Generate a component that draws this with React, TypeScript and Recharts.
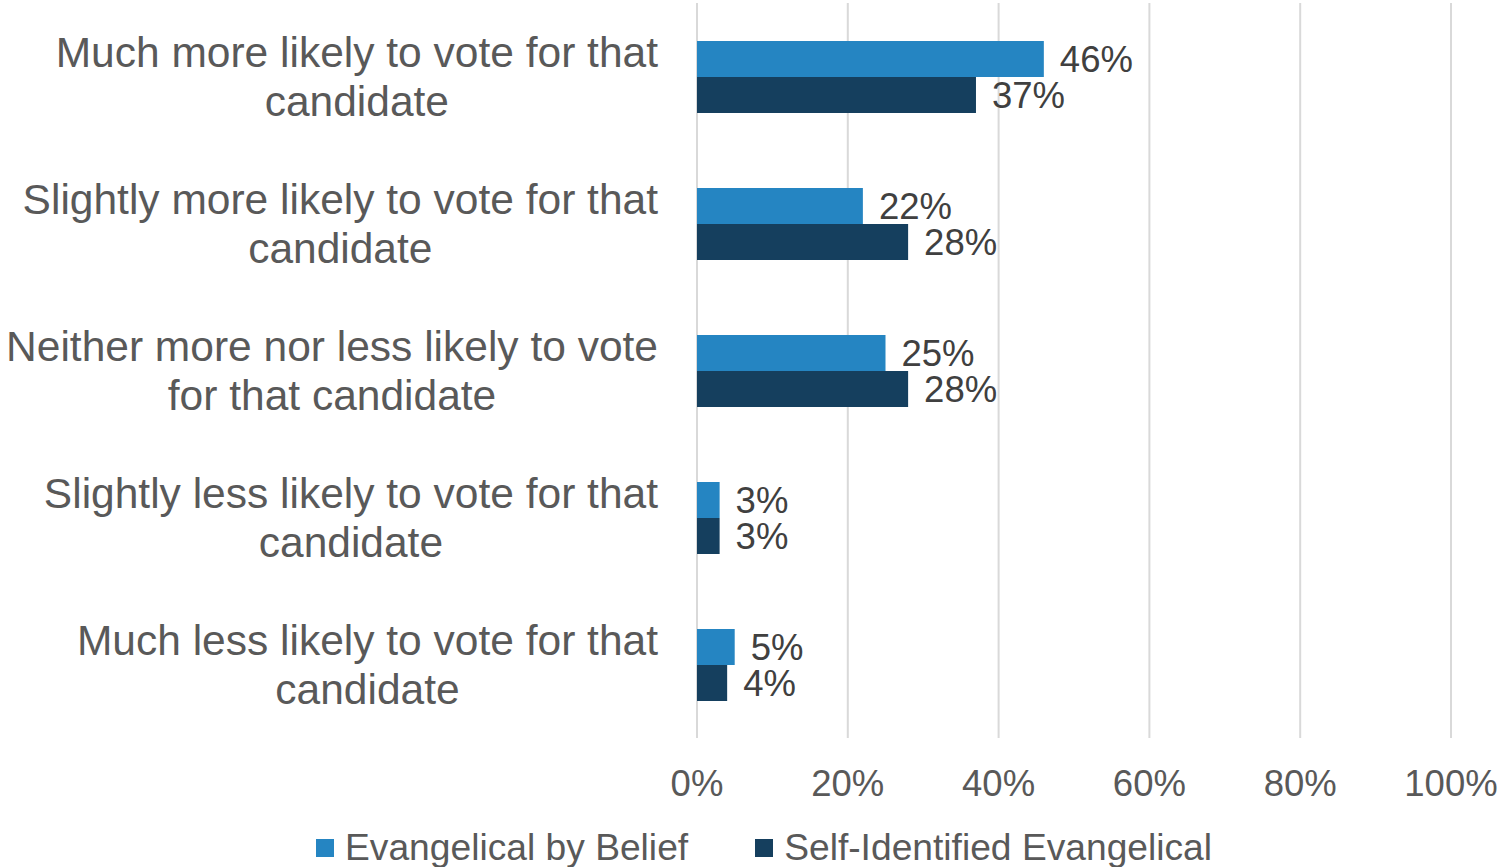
import { BarChart, Bar, XAxis, YAxis, CartesianGrid, LabelList } from 'recharts';

// 回答カテゴリ（2行表示）
const categoryLines: string[][] = [
  ['Much more likely to vote for that', 'candidate'],
  ['Slightly more likely to vote for that', 'candidate'],
  ['Neither more nor less likely to vote', 'for that candidate'],
  ['Slightly less likely to vote for that', 'candidate'],
  ['Much less likely to vote for that', 'candidate'],
];
const categories = categoryLines.map(l => l.join(' '));

const seriesNames = ['Evangelical by Belief', 'Self-Identified Evangelical'];
const beliefValues = [46, 22, 25, 3, 5];
const selfIdValues = [37, 28, 28, 3, 4];
const xTicks = [0, 20, 40, 60, 80, 100];

const colors = ['#2585C2', '#153F5E'];
const FONT = '"Liberation Sans", Arial, sans-serif';

const data = categories.map((name, i) => ({
  name,
  belief: beliefValues[i],
  selfId: selfIdValues[i],
}));

let ctx: CanvasRenderingContext2D | null = null;
const measure = (text: string, size: number) => {
  if (!ctx) ctx = document.createElement('canvas').getContext('2d');
  if (!ctx) return text.length * size * 0.5;
  ctx.font = `${size}px "Liberation Sans", Arial`;
  return ctx.measureText(text).width;
};

// 右揃えブロック内で中央揃えのラベル
const CategoryTick = (props: any) => {
  const { x, y, payload } = props;
  const idx = categories.indexOf(payload.value);
  const lines = categoryLines[idx] || [payload.value];
  const size = 42.5;
  const right = x - 31;
  const blockW = Math.max(...lines.map(l => measure(l, size)));
  const cx = right - blockW / 2;
  const lh = 49;
  const startY = y - ((lines.length - 1) * lh) / 2;
  return (
    <g>
      {lines.map((l, i) => (
        <text
          key={i}
          x={cx}
          y={startY + i * lh}
          dy="0.35em"
          textAnchor="middle"
          fill="#595959"
          fontSize={size}
          fontFamily={FONT}
        >
          {l}
        </text>
      ))}
    </g>
  );
};

const labelStyle = { fontSize: 36.5, fill: '#404040', fontFamily: FONT };

const App = () => {
  return (
    <div style={{ position: 'absolute', left: 0, top: 0, width: 1499, height: 867, background: '#fff', fontFamily: FONT }}>
      <BarChart
        width={1499}
        height={867}
        data={data}
        layout="vertical"
        margin={{ top: 3, right: 48, left: 0, bottom: 69 }}
        barCategoryGap={38}
        barGap={0}
      >
        <CartesianGrid horizontal={false} stroke="#D9D9D9" strokeWidth={2} />
        <XAxis
          type="number"
          domain={[0, 100]}
          ticks={xTicks}
          tickFormatter={(v) => `${v}%`}
          axisLine={false}
          tickLine={false}
          tickSize={0}
          tickMargin={32}
          height={60}
          interval={0}
          tick={{ fontSize: 36.5, fill: '#595959', fontFamily: FONT }}
        />
        <YAxis
          type="category"
          dataKey="name"
          width={697}
          axisLine={false}
          tickLine={false}
          tick={<CategoryTick />}
        />
        <Bar dataKey="belief" name={seriesNames[0]} fill={colors[0]} isAnimationActive={false}>
          <LabelList
            dataKey="belief"
            position="right"
            offset={16}
            formatter={(v: any) => `${v}%`}
            style={labelStyle}
          />
        </Bar>
        <Bar dataKey="selfId" name={seriesNames[1]} fill={colors[1]} isAnimationActive={false}>
          <LabelList
            dataKey="selfId"
            position="right"
            offset={16}
            formatter={(v: any) => `${v}%`}
            style={labelStyle}
          />
        </Bar>
      </BarChart>
      <div style={{ position: 'absolute', left: 316, top: 826, display: 'flex', alignItems: 'center', fontSize: 37.2, color: '#595959', whiteSpace: 'nowrap' }}>
        {seriesNames.map((n, i) => (
          <div key={n} style={{ display: 'flex', alignItems: 'center', marginRight: i === 0 ? 67 : 0 }}>
            <span style={{ display: 'inline-block', width: 18, height: 18, background: colors[i], marginRight: 11 }} />
            <span>{n}</span>
          </div>
        ))}
      </div>
    </div>
  );
};

export default App;
